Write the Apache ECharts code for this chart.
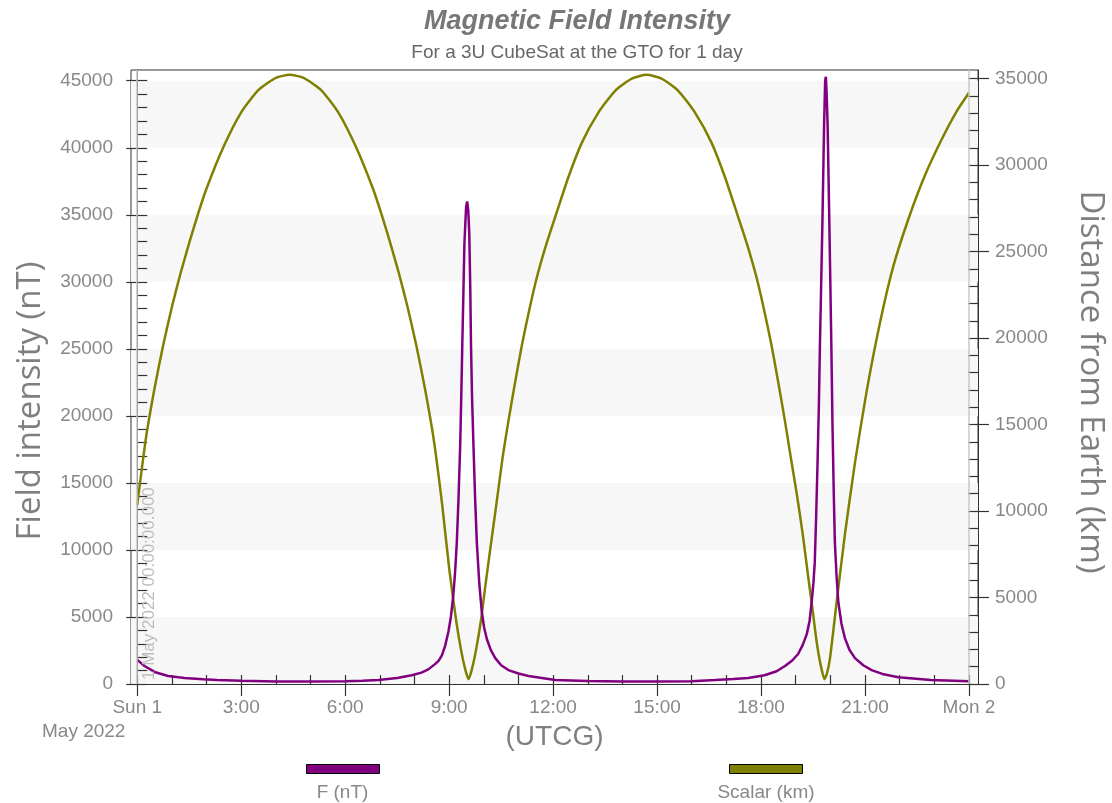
<!DOCTYPE html>
<html><head><meta charset="utf-8">
<script src="https://cdn.jsdelivr.net/npm/echarts@6/dist/echarts.min.js"></script>
<style>html,body{margin:0;padding:0;background:#fff}#c{width:1112px;height:803px}</style>
</head><body><div id="c"></div>
<script>
// hours since 1 May 2022 00:00 UTCG, field intensity (nT)
const fieldData = [
[0,1800],[0.21,1340],[0.5,900],[0.89,600],[1.36,450],[1.9,350],[2.3,300],[3.0,240],[4.0,190],[5.0,180],[6.0,200],[6.5,240],[6.96,300],[7.5,440],[7.92,650],[8.2,850],[8.4,1090],[8.6,1500],[8.7,1750],[8.79,2130],[8.88,2800],[8.98,3920],[9.05,5000],[9.12,6600],[9.17,8300],[9.22,10490],[9.27,13800],[9.32,17930],[9.35,21500],[9.38,25370],[9.41,29000],[9.44,32800],[9.47,34500],[9.49,35600],[9.52,36000],[9.55,35400],[9.58,33700],[9.61,29500],[9.63,25370],[9.66,21500],[9.70,17930],[9.75,13800],[9.80,10490],[9.87,7500],[9.94,5430],[10.01,4200],[10.09,3340],[10.2,2550],[10.33,1930],[10.5,1400],[10.71,1040],[11.0,780],[11.29,600],[12.06,300],[13.0,220],[14.0,180],[15.0,180],[16.0,210],[16.67,300],[17.2,380],[17.63,450],[18.1,650],[18.45,950],[18.69,1340],[18.9,1750],[19.07,2240],[19.2,2900],[19.32,3720],[19.4,4700],[19.46,6100],[19.51,7500],[19.55,9070],[19.59,12500],[19.63,16510],[19.67,21000],[19.70,25440],[19.74,30500],[19.77,34370],[19.82,41800],[19.85,45000],[19.87,45300],[19.89,44200],[19.92,41800],[19.96,36000],[19.99,31390],[20.03,25000],[20.06,19490],[20.1,14000],[20.13,10560],[20.18,8000],[20.23,6100],[20.32,4500],[20.42,3420],[20.55,2550],[20.71,1930],[20.95,1400],[21.19,1040],[21.5,750],[21.96,510],[22.9,300],[24.0,200]
];
// hours, distance from Earth (km)
const distanceData = [
[0,10350],[0.25,14200],[0.5,17100],[0.75,19600],[1.0,21800],[1.25,23750],[1.5,25500],[1.75,27150],[2.0,28650],[2.5,31100],[3.0,33050],[3.5,34350],[4.0,35050],[4.4,35220],
[4.8,35050],[5.3,34350],[5.8,33050],[6.3,31100],[6.8,28650],[7.05,27150],[7.3,25500],[7.55,23750],[7.8,21800],[8.05,19600],[8.3,17100],[8.55,14200],[8.8,10350],[9.0,6700],[9.2,3700],[9.35,1900],[9.47,800],[9.56,280],
[9.65,800],[9.77,1900],[9.92,3700],[10.04,5600],[10.2,8000],[10.37,10500],[10.55,13200],[10.71,15200],[10.9,17400],[11.1,19600],[11.32,21700],[11.53,23500],[11.8,25400],[12.06,27000],[12.44,29300],[12.83,31300],[13.31,33050],[13.79,34300],[14.27,35000],[14.70,35220],
[15.13,35000],[15.61,34300],[16.09,33050],[16.57,31300],[16.96,29300],[17.34,27000],[17.6,25400],[17.87,23500],[18.08,21700],[18.3,19600],[18.5,17400],[18.69,15200],[18.85,13200],[19.03,11000],[19.2,8700],[19.36,6200],[19.48,4400],[19.6,2500],[19.72,1100],[19.83,280],
[19.9,600],[19.99,1500],[20.18,4730],[20.42,8650],[20.71,12800],[21.05,16960],[21.43,20870],[21.81,24100],[22.25,26870],[22.73,29410],[23.21,31480],[23.64,33100],[23.96,34070],[24.0,34190]
];
const xTicks = [0,3,6,9,12,15,18,21,24];
const xTickLabels = ['Sun 1','3:00','6:00','9:00','12:00','15:00','18:00','21:00','Mon 2'];
const leftTicks = [0,5000,10000,15000,20000,25000,30000,35000,40000,45000];
const rightTicks = [0,5000,10000,15000,20000,25000,30000,35000];
const hourTicks = []; for (let h = 0; h <= 24; h++) hourTicks.push(h);
const leftMinor = []; for (let v = 0; v <= 45000; v += 1000) leftMinor.push(v);
const rightMinor = []; for (let v = 0; v <= 35000; v += 1000) rightMinor.push(v);

const FONT = 'Liberation Sans';
const rect = {left:131, right:134, top:70, bottom:119};
const tickStyle = {color:'#333', width:1.2};
const plain = v => String(v);
const chart = echarts.init(document.getElementById('c'), null, {renderer:'canvas'});
chart.setOption({
  animation:false,
  backgroundColor:'#fff',
  textStyle:{fontFamily:FONT},
  title:{
    text:'Magnetic Field Intensity', subtext:'For a 3U CubeSat at the GTO for 1 day',
    left:572, textAlign:'center', top:3, itemGap:8,
    textStyle:{fontFamily:FONT, fontSize:27, fontStyle:'italic', fontWeight:'bold', color:'#777'},
    subtextStyle:{fontFamily:FONT, fontSize:19, color:'#666'}
  },
  legend:[
    {data:['F (nT)'], left:301, top:759, icon:'rect', itemWidth:73, itemHeight:9, formatter:()=>'', selectedMode:false,
     itemStyle:{borderColor:'#000', borderWidth:1}},
    {data:['Scalar (km)'], left:724, top:759, icon:'rect', itemWidth:73, itemHeight:9, formatter:()=>'', selectedMode:false,
     itemStyle:{borderColor:'#000', borderWidth:1}}
  ],
  grid:[
    Object.assign({show:true, borderColor:'#333', borderWidth:1, backgroundColor:'transparent', containLabel:false, outerBoundsMode:'none'}, rect),
    Object.assign({show:false, containLabel:false, outerBoundsMode:'none'}, rect)
  ],
  xAxis:[
    {type:'value', gridIndex:0, min:-0.18, max:24.26,
     axisLine:{show:true, lineStyle:{color:'#333'}},
     axisTick:{show:true, customValues:xTicks, length:12, lineStyle:tickStyle},
     axisLabel:{customValues:xTicks, formatter:v=>{const i=xTicks.indexOf(v); return i>=0?xTickLabels[i]:'';}, color:'#888', fontSize:19, margin:14, fontFamily:FONT},
     splitLine:{show:false},
     name:'(UTCG)', nameLocation:'middle', nameGap:39, nameTextStyle:{fontSize:28, color:'#808080', fontFamily:FONT}},
    {type:'value', gridIndex:1, min:-0.18, max:24.26,
     axisLine:{show:false}, axisTick:{show:true, inside:true, customValues:hourTicks, length:9, lineStyle:tickStyle},
     axisLabel:{show:false}, splitLine:{show:false}}
  ],
  yAxis:[
    {type:'value', gridIndex:0, position:'left', min:0, max:45800, interval:5000,
     axisLine:{show:true, lineStyle:{color:'#333'}},
     axisTick:{show:true, customValues:leftTicks, length:11, lineStyle:tickStyle},
     axisLabel:{customValues:leftTicks, formatter:plain, color:'#888', fontSize:19, margin:18, fontFamily:FONT},
     splitLine:{show:false},
     splitArea:{show:true, areaStyle:{color:['#f7f7f7','rgba(255,255,255,0)']}},
     name:'Field intensity (nT)', nameLocation:'middle', nameGap:84,
     nameTextStyle:{fontSize:33, color:'#7f7f7f', fontFamily:'Open Sans', padding:[0,48,0,0]}},
    {type:'value', gridIndex:0, position:'right', min:0, max:35500, interval:5000,
     axisLine:{show:true, lineStyle:{color:'#333'}},
     axisTick:{show:true, customValues:rightTicks, length:11, lineStyle:tickStyle},
     axisLabel:{customValues:rightTicks, formatter:plain, color:'#888', fontSize:19, margin:17, fontFamily:FONT},
     splitLine:{show:false}, splitArea:{show:false},
     name:'Distance from Earth (km)', nameLocation:'middle', nameGap:96, nameRotate:-90,
     nameTextStyle:{fontSize:33, color:'#7f7f7f', fontFamily:'Open Sans', padding:[0,0,0,10]}},
    {type:'value', gridIndex:1, position:'left', min:0, max:45800,
     axisLine:{show:false}, axisTick:{show:true, inside:true, customValues:leftMinor, length:10, lineStyle:tickStyle},
     axisLabel:{show:false}, splitLine:{show:false}},
    {type:'value', gridIndex:1, position:'right', min:0, max:35500,
     axisLine:{show:false}, axisTick:{show:true, inside:true, customValues:rightMinor, length:10, lineStyle:tickStyle},
     axisLabel:{show:false}, splitLine:{show:false}}
  ],
  series:[
    {name:'F (nT)', type:'line', xAxisIndex:0, yAxisIndex:0, data:fieldData, showSymbol:false, z:4,
     lineStyle:{color:'#800080', width:2.5}, itemStyle:{color:'#800080'},
     markLine:{silent:true, symbol:'none', animation:false,
       lineStyle:{color:'#c8c8c8', width:1.5, type:'solid'}, label:{show:false},
       data:[
         {xAxis:0, label:{show:true, formatter:'1 May 2022 00:00:00.000', position:'insideStartBottom', color:'#bdbdbd', fontSize:17, distance:4, fontFamily:FONT}},
         {xAxis:24}
       ]}},
    {name:'Scalar (km)', type:'line', xAxisIndex:0, yAxisIndex:1, data:distanceData, showSymbol:false, smooth:0.2, z:3,
     lineStyle:{color:'#808000', width:2.5}, itemStyle:{color:'#808000'}}
  ],
  graphic:[
    {type:'text', x:42, y:732, style:{text:'May 2022', fill:'#888', fontSize:19, fontFamily:FONT, align:'left', verticalAlign:'middle'}},
    {type:'text', x:342.5, y:793, style:{text:'F (nT)', fill:'#888', fontSize:19, fontFamily:FONT, align:'center', verticalAlign:'middle'}},
    {type:'text', x:766, y:793, style:{text:'Scalar (km)', fill:'#888', fontSize:19, fontFamily:FONT, align:'center', verticalAlign:'middle'}}
  ]
});
</script>
</body></html>
